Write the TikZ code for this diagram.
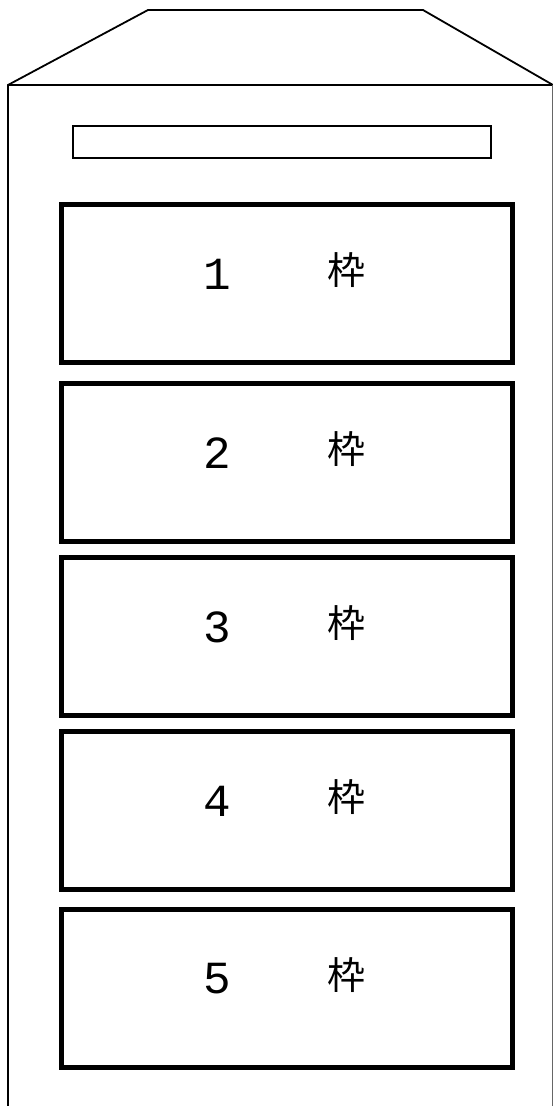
\documentclass[tikz,border=0pt]{standalone}
\usepackage{fontspec}
\newfontfamily\cjk{Noto Sans CJK JP}[Scale=1]
\newfontfamily\digitfont{Liberation Mono}
\begin{document}
\begin{tikzpicture}[x=1pt,y=-1pt,
  frame/.style={draw=black,line width=5pt,rectangle,minimum width=451pt,minimum height=158pt,inner sep=0pt,anchor=north west},
  thin/.style={draw=black,line width=1.8pt},
  numlabel/.style={font=\digitfont\fontsize{46}{46}\selectfont,inner sep=0pt},
  kanji/.style={font=\cjk\fontsize{38}{38}\selectfont,inner sep=0pt}]
\useasboundingbox (0,0) rectangle (553,1106);
\fill[white] (0,0) rectangle (553,1106);
% roof and body
\draw[thin,line join=miter] (8,1110) -- (8,85) -- (148,10) -- (423,10) -- (553,85);
\draw[thin] (8,85) -- (553,85);
\draw[draw=black!60,line width=1pt] (552,85) -- (552,1110);
% name plate
\node[thin,rectangle,minimum width=418pt,minimum height=32pt,inner sep=0pt,anchor=north west] (plate) at (72,125) {};
% frames
\foreach \i/\yy in {1/202,2/381,3/555,4/729,5/907}{
  \node[frame] (box\i) at (59,\yy) {};
  \node[numlabel] (n\i) at (217,\yy+72) {\i};
  \node[kanji] (k\i) at (346,\yy+68) {枠};
}
\end{tikzpicture}
\end{document}
